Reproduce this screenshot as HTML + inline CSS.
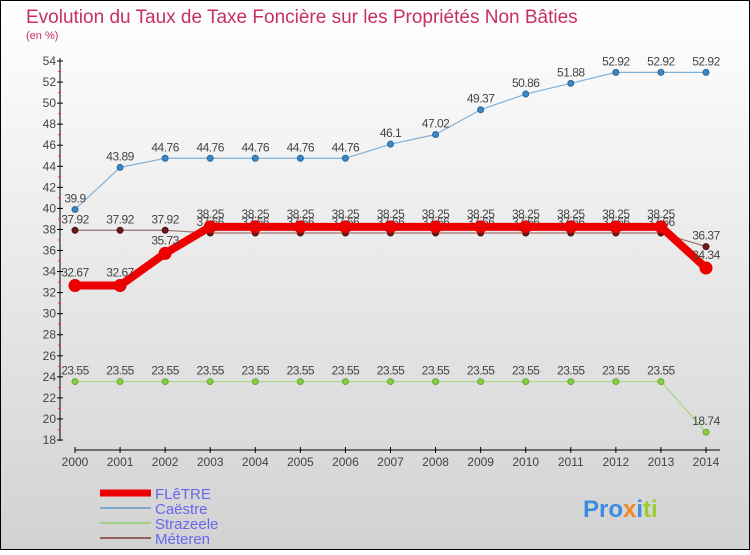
<!DOCTYPE html>
<html><head><meta charset="utf-8"><style>
body{margin:0;}
#c{width:750px;height:550px;position:relative;font-family:"Liberation Sans",sans-serif;}
</style></head><body>
<div id="c">
<svg id="s" width="750" height="550" xmlns="http://www.w3.org/2000/svg">
<defs><linearGradient id="bg" x1="0" y1="0" x2="0" y2="1"><stop offset="0" stop-color="#ffffff"/><stop offset="1" stop-color="#d2d2d2"/></linearGradient></defs>
<rect x="0.5" y="0.5" width="749" height="549" fill="url(#bg)" stroke="#000"/>
<text x="26" y="23" font-size="19" fill="#c8305f">Evolution du Taux de Taxe Foncière sur les Propriétés Non Bâties</text>
<text x="26" y="39" font-size="11" fill="#c8305f">(en %)</text>
<g id="axes"></g><g id="series"></g>
<g>
<line x1="100" y1="493" x2="151" y2="493" stroke="#ee0000" stroke-width="7"/>
<text x="155" y="499" font-size="15" fill="#6666ee">FLêTRE</text>
<line x1="100" y1="508" x2="151" y2="508" stroke="#80a8c8" stroke-width="2"/>
<text x="155" y="514" font-size="15" fill="#6666ee">Caëstre</text>
<line x1="100" y1="523" x2="151" y2="523" stroke="#a0d080" stroke-width="2"/>
<text x="155" y="529" font-size="15" fill="#6666ee">Strazeele</text>
<line x1="100" y1="538" x2="151" y2="538" stroke="#906060" stroke-width="2"/>
<text x="155" y="544" font-size="15" fill="#6666ee">Méteren</text>
</g>
<text x="583" y="517" font-size="24" font-weight="bold" fill="#3a8ee0">Pro<tspan fill="#f08a20">x</tspan><tspan fill="#3a8ee0">i</tspan><tspan fill="#9ccc30">ti</tspan></text>
</svg>
</div>
<script>
const years=[2000,2001,2002,2003,2004,2005,2006,2007,2008,2009,2010,2011,2012,2013,2014];
const yTicks=[18,20,22,24,26,28,30,32,34,36,38,40,42,44,46,48,50,52,54];
const fletre=[32.67,32.67,35.73,38.25,38.25,38.25,38.25,38.25,38.25,38.25,38.25,38.25,38.25,38.25,34.34];
const caestre=[39.9,43.89,44.76,44.76,44.76,44.76,44.76,46.1,47.02,49.37,50.86,51.88,52.92,52.92,52.92];
const strazeele=[23.55,23.55,23.55,23.55,23.55,23.55,23.55,23.55,23.55,23.55,23.55,23.55,23.55,23.55,18.74];
const meteren=[37.92,37.92,37.92,37.66,37.66,37.66,37.66,37.66,37.66,37.66,37.66,37.66,37.66,37.66,36.37];
const NS="http://www.w3.org/2000/svg";
const X=i=>75+i*(706-75)/(years.length-1);
const Y=v=>440-(v-18)*(440-61)/36;
function mk(t,a,p){const e=document.createElementNS(NS,t);for(const k in a)e.setAttribute(k,a[k]);p.appendChild(e);return e;}
const ax=document.getElementById('axes');
const yl=mk('line',{x1:60,y1:58,x2:60,y2:441,stroke:'#000'},ax);


const xl=mk('line',{x1:75,y1:450,x2:720,y2:450,stroke:'#000'},ax);


const yMax=yTicks[yTicks.length-1];
yTicks.forEach(v=>{
 mk('line',{x1:57,y1:Y(v),x2:63,y2:Y(v),stroke:'#000'},ax);
 if(v<yMax) mk('line',{x1:58,y1:Y(v+1),x2:61,y2:Y(v+1),stroke:'#e33'},ax);
 const t=mk('text',{x:56,y:Y(v)+4,'font-size':12,fill:'#444','text-anchor':'end'},ax);
 t.textContent=v;
 
 
});
years.forEach((yr,i)=>{
 mk('line',{x1:X(i),y1:447,x2:X(i),y2:453,stroke:'#000'},ax);
 const t=mk('text',{x:X(i),y:466,'font-size':12,fill:'#444','text-anchor':'middle'},ax);
 t.textContent=yr;
 
 
});
const sg=document.getElementById('series');
function series(name,data,color,w,r,dot,dotStroke,lo){
 const g=mk('g',{},sg);
 
 
 const p=mk('polyline',{points:data.map((v,i)=>X(i)+','+Y(v)).join(' '),fill:'none',stroke:color,'stroke-width':w,'stroke-linejoin':'round'},g);
 
 
 data.forEach((v,i)=>{
  const c=mk('circle',{cx:X(i),cy:Y(v),r:r,fill:dot,stroke:dotStroke,'stroke-width':1},g);
  
  
  const t=mk('text',{x:X(i),y:Y(v)+lo,'font-size':12,fill:'#444','text-anchor':'middle','letter-spacing':'-0.5'},g);
  t.textContent=String(v);
  
  
 });
}
series('caestre',caestre,'#80b0d8',1.2,3,'#3a88c8','#2a6898',-7);
series('strazeele',strazeele,'#a8d888',1.2,3,'#88cc44','#66aa33',-7);
series('meteren',meteren,'#a07070',1.2,3,'#6a1a1a','#501010',-7);
series('fletre',fletre,'#ee0000',8,6,'#ee0000','#dd0000',-9);
</script>
</body></html>
